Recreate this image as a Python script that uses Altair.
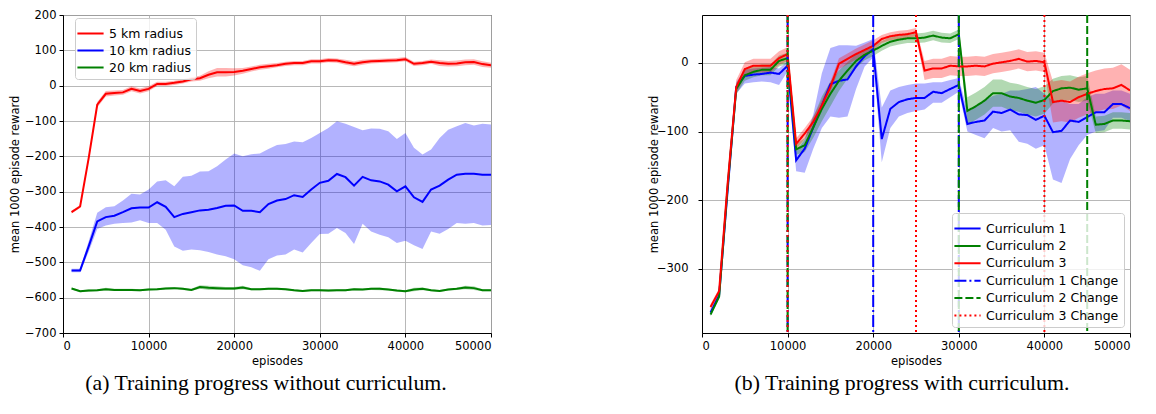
import altair as alt
import pandas as pd

episodes = list(range(1000, 50001, 1000))

# ---------- (a) without curriculum ----------
left_series = ["5 km radius", "10 km radius", "20 km radius"]
left_colors = ["#ff0000", "#0000ff", "#008000"]

red_mean = [-358, -342, -205, -54, -23, -21, -19, -9, -15, -9,
            5, 5, 8, 12, 18, 21, 31, 38, 38, 39,
            42, 47, 52, 55, 58, 62, 64, 64, 69, 69,
            72, 71, 66, 62, 66, 69, 70, 71, 72, 75,
            62, 64, 68, 64, 62, 63, 66, 67, 61, 58]
red_half = [4, 4, 6, 8, 8, 7, 7, 7, 7, 7,
            6, 6, 6, 6, 6, 7, 10, 12, 12, 10,
            8, 7, 7, 7, 6, 6, 6, 6, 6, 6,
            6, 6, 7, 7, 7, 6, 6, 6, 6, 6,
            6, 6, 6, 8, 8, 8, 8, 8, 8, 7]

blue_mean = [-523, -523, -455, -384, -372, -368, -358, -347, -345, -345,
             -330, -343, -372, -363, -358, -353, -351, -346, -340, -339,
             -354, -354, -358, -335, -325, -321, -310, -315, -294, -275,
             -269, -250, -259, -283, -258, -268, -271, -280, -299, -285,
             -316, -329, -294, -283, -266, -252, -249, -249, -252, -252]
blue_hi = [-518, -518, -440, -360, -344, -341, -325, -306, -308, -294,
           -271, -268, -285, -258, -255, -243, -242, -228, -209, -192,
           -200, -194, -192, -179, -168, -165, -158, -160, -148, -134,
           -120, -101, -108, -117, -126, -121, -122, -129, -151, -134,
           -176, -195, -181, -148, -125, -115, -106, -113, -108, -110]
blue_lo = [-528, -528, -470, -406, -396, -391, -389, -387, -381, -389,
           -389, -408, -455, -467, -464, -466, -471, -478, -483, -491,
           -508, -514, -524, -491, -481, -478, -464, -472, -445, -420,
           -419, -403, -417, -448, -391, -413, -422, -429, -445, -439,
           -452, -462, -413, -419, -406, -389, -391, -389, -396, -394]

green_mean = [-574, -582, -580, -579, -576, -578, -578, -578, -579, -577,
              -576, -574, -573, -575, -578, -570, -572, -573, -574, -574,
              -571, -576, -576, -575, -575, -576, -579, -581, -579, -579,
              -580, -579, -579, -576, -577, -575, -575, -577, -580, -582,
              -577, -575, -579, -581, -577, -575, -571, -573, -579, -579]
green_half = [3, 3, 3, 3, 4, 3, 3, 3, 3, 3,
              3, 3, 3, 3, 3, 5, 6, 5, 4, 4,
              5, 3, 3, 3, 3, 3, 3, 3, 3, 3,
              3, 3, 3, 3, 3, 3, 4, 3, 3, 3,
              5, 4, 3, 3, 3, 3, 5, 5, 3, 3]

# ---------- (b) with curriculum ----------
right_series = ["Curriculum 1", "Curriculum 2", "Curriculum 3"]
change_labels = ["Curriculum 1 Change", "Curriculum 2 Change", "Curriculum 3 Change"]
right_colors = ["#0000ff", "#008000", "#ff0000"]

c1_mean = [-364, -339, -185, -35, -19, -17, -16, -14, -16, -4,
           -142, -125, -94, -62, -31, -26, -24, -5, 10, 20,
           -111, -67, -57, -53, -51, -51, -42, -44, -38, -32,
           -89, -86, -84, -71, -73, -68, -75, -76, -83, -77,
           -101, -99, -84, -86, -79, -72, -72, -60, -60, -66]
c1_hi = [-360, -335, -175, -28, -10, -8, -7, -6, -8, 2,
         -128, -112, -75, -15, 22, 26, 26, 25, 30, 35,
         -65, -40, -35, -32, -30, -30, -28, -28, -25, -22,
         -70, -62, -55, -48, -45, -40, -40, -38, -35, -45,
         -55, -55, -60, -60, -50, -45, -45, -40, -40, -45]
c1_lo = [-368, -343, -195, -45, -30, -28, -27, -28, -32, -12,
         -158, -160, -125, -95, -78, -80, -78, -38, -5, 8,
         -145, -95, -78, -73, -70, -68, -58, -58, -50, -42,
         -100, -105, -110, -95, -100, -98, -115, -118, -125, -120,
         -170, -175, -140, -120, -105, -100, -98, -80, -80, -85]

c2_mean = [-367, -341, -180, -38, -18, -13, -10, -10, 3, 7,
           -126, -120, -94, -67, -45, -26, -11, 3, 12, 18,
           25, 31, 34, 36, 36, 37, 40, 37, 36, 42,
           -70, -63, -55, -44, -44, -49, -51, -55, -58, -54,
           -41, -37, -36, -39, -37, -90, -89, -84, -84, -85]
c2_half = [3, 3, 6, 8, 8, 8, 8, 8, 8, 8,
           8, 10, 15, 18, 18, 15, 12, 10, 8, 8,
           7, 7, 7, 7, 7, 7, 7, 7, 7, 7,
           20, 20, 20, 20, 20, 20, 20, 20, 20, 20,
           18, 18, 18, 18, 18, 12, 12, 12, 12, 12]

c3_mean = [-356, -333, -175, -35, -9, -4, -4, -4, 7, 13,
           -118, -103, -86, -62, -35, -1, 6, 13, 19, 25,
           35, 39, 41, 42, 45, -11, -8, -8, -4, -5,
           -5, -4, -5, -1, 1, 3, 6, 2, 3, 1,
           -57, -55, -57, -50, -45, -41, -38, -37, -32, -40]
c3_half = [4, 4, 6, 10, 10, 10, 10, 10, 10, 10,
           8, 8, 8, 8, 8, 8, 8, 8, 8, 8,
           6, 6, 6, 6, 6, 14, 14, 14, 14, 14,
           14, 14, 14, 14, 14, 14, 14, 14, 14, 14,
           30, 30, 30, 30, 30, 30, 30, 30, 30, 30]

c1_changes = [10000, 20000, 30000]
c2_changes = [10000, 30000, 45000]
c3_changes = [10000, 25000, 40000]

caption_a = "(a) Training progress without curriculum."
caption_b = "(b) Training progress with curriculum."

# ---------- tables ----------
def band_rows(name, mean, lo, hi):
    return [{"episode": e, "series": name, "mean": m, "lo": l, "hi": h}
            for e, m, l, h in zip(episodes, mean, lo, hi)]

left_rows = []
left_rows += band_rows(left_series[0], red_mean,
                       [m - d for m, d in zip(red_mean, red_half)],
                       [m + d for m, d in zip(red_mean, red_half)])
left_rows += band_rows(left_series[1], blue_mean, blue_lo, blue_hi)
left_rows += band_rows(left_series[2], green_mean,
                       [m - d for m, d in zip(green_mean, green_half)],
                       [m + d for m, d in zip(green_mean, green_half)])
left_df = pd.DataFrame(left_rows)

right_rows = []
right_rows += band_rows(right_series[0], c1_mean, c1_lo, c1_hi)
right_rows += band_rows(right_series[1], c2_mean,
                        [m - d for m, d in zip(c2_mean, c2_half)],
                        [m + d for m, d in zip(c2_mean, c2_half)])
right_rows += band_rows(right_series[2], c3_mean,
                        [m - d for m, d in zip(c3_mean, c3_half)],
                        [m + d for m, d in zip(c3_mean, c3_half)])
right_df = pd.DataFrame(right_rows)

change_rows = []
for lab, xs in zip(change_labels, [c1_changes, c2_changes, c3_changes]):
    for x in xs:
        change_rows.append({"episode": x, "series": lab})
change_df = pd.DataFrame(change_rows)

FONT = "DejaVu Sans"
FS = 11.5
LFS = 12.5
W, H = 428, 318
YTITLE = "mean 1000 episode reward"

x_enc = alt.X("episode:Q", title="episodes",
              scale=alt.Scale(domain=[0, 50000], nice=False),
              axis=alt.Axis(values=[0, 10000, 20000, 30000, 40000, 50000], format="d",
                            labelOverlap=False))

def caption(text, dx):
    return alt.TitleParams(text, orient="bottom", font="Liberation Serif", fontSize=21.8,
                           fontWeight="normal", color="black", anchor="middle",
                           frame="group", dx=dx, offset=6)

def legend(**kw):
    return alt.Legend(title=None,
                      symbolType="M-1.4,0L1.4,0", symbolSize=350, symbolStrokeWidth=2,
                      labelFont=FONT, labelFontSize=LFS, labelColor="black",
                      fillColor="rgba(255,255,255,0.8)", strokeColor="#cccccc",
                      cornerRadius=3, padding=5, labelOffset=8, **kw)

def bands(df, names, colors, y_scale, y_axis):
    layers = []
    for name, col in zip(names, colors):
        layers.append(
            alt.Chart(df).transform_filter(alt.datum.series == name)
            .mark_area(color=col, opacity=0.3, clip=True)
            .encode(x=x_enc,
                    y=alt.Y("lo:Q", title=YTITLE, scale=y_scale, axis=y_axis),
                    y2="hi:Q")
        )
    return layers

# left chart
left_y_scale = alt.Scale(domain=[-700, 200], nice=False)
left_y_axis = alt.Axis(values=list(range(-700, 201, 100)), format="d", labelOverlap=False)
left_leg = legend(orient="none", legendX=12, legendY=3, rowPadding=0)
left_line = alt.Chart(left_df).mark_line(strokeWidth=2, clip=True).encode(
    x=x_enc,
    y=alt.Y("mean:Q", title=YTITLE, scale=left_y_scale, axis=left_y_axis),
    color=alt.Color("series:N", scale=alt.Scale(domain=left_series, range=left_colors),
                    legend=left_leg),
)
left = alt.layer(*bands(left_df, left_series, left_colors, left_y_scale, left_y_axis),
                 left_line).properties(width=W, height=H, title=caption(caption_a, -11))

# right chart
legend_domain = right_series + change_labels
legend_colors = right_colors + right_colors
legend_dash = [[1, 0], [1, 0], [1, 0], [12, 3, 2, 3], [8, 3], [2, 3]]

right_y_scale = alt.Scale(domain=[-394, 70], nice=False)
right_y_axis = alt.Axis(values=[-300, -200, -100, 0], format="d", labelOverlap=False,
                        labelPadding=10, titlePadding=-3)
right_leg = legend(orient="bottom-right", offset=6, rowPadding=0.4)
color_enc = alt.Color("series:N", scale=alt.Scale(domain=legend_domain, range=legend_colors),
                      legend=right_leg)
dash_enc = alt.StrokeDash("series:N", scale=alt.Scale(domain=legend_domain, range=legend_dash),
                          legend=right_leg)
right_line = alt.Chart(right_df).mark_line(strokeWidth=2, clip=True).encode(
    x=x_enc,
    y=alt.Y("mean:Q", title=YTITLE, scale=right_y_scale, axis=right_y_axis),
    color=color_enc,
    strokeDash=dash_enc,
)
right_rule = alt.Chart(change_df).mark_rule(strokeWidth=2).encode(
    x=alt.X("episode:Q"),
    color=color_enc,
    strokeDash=dash_enc,
)
right = alt.layer(*bands(right_df, right_series, right_colors, right_y_scale, right_y_axis),
                  right_line, right_rule).properties(
    width=W, height=H, title=caption(caption_b, -14))

chart = alt.hconcat(left, right, spacing=155).resolve_scale(
    color="independent", strokeDash="independent", x="independent", y="independent"
).properties(
    padding={"left": 0, "top": 0, "right": 0, "bottom": 0}
).configure_view(
    stroke="black", strokeWidth=1
).configure_axis(
    labelFont=FONT, labelFontSize=FS, labelColor="black",
    titleFont=FONT, titleFontSize=FS, titleFontWeight="normal", titleColor="black",
    tickColor="black", domainColor="black", tickSize=4, labelPadding=3,
    gridColor="#b0b0b0", gridWidth=0.9, titlePadding=4, labelOverlap=False,
).configure_legend(
    labelLimit=300
)

chart.save("out.html", embed_options={"renderer": "svg", "actions": False})
